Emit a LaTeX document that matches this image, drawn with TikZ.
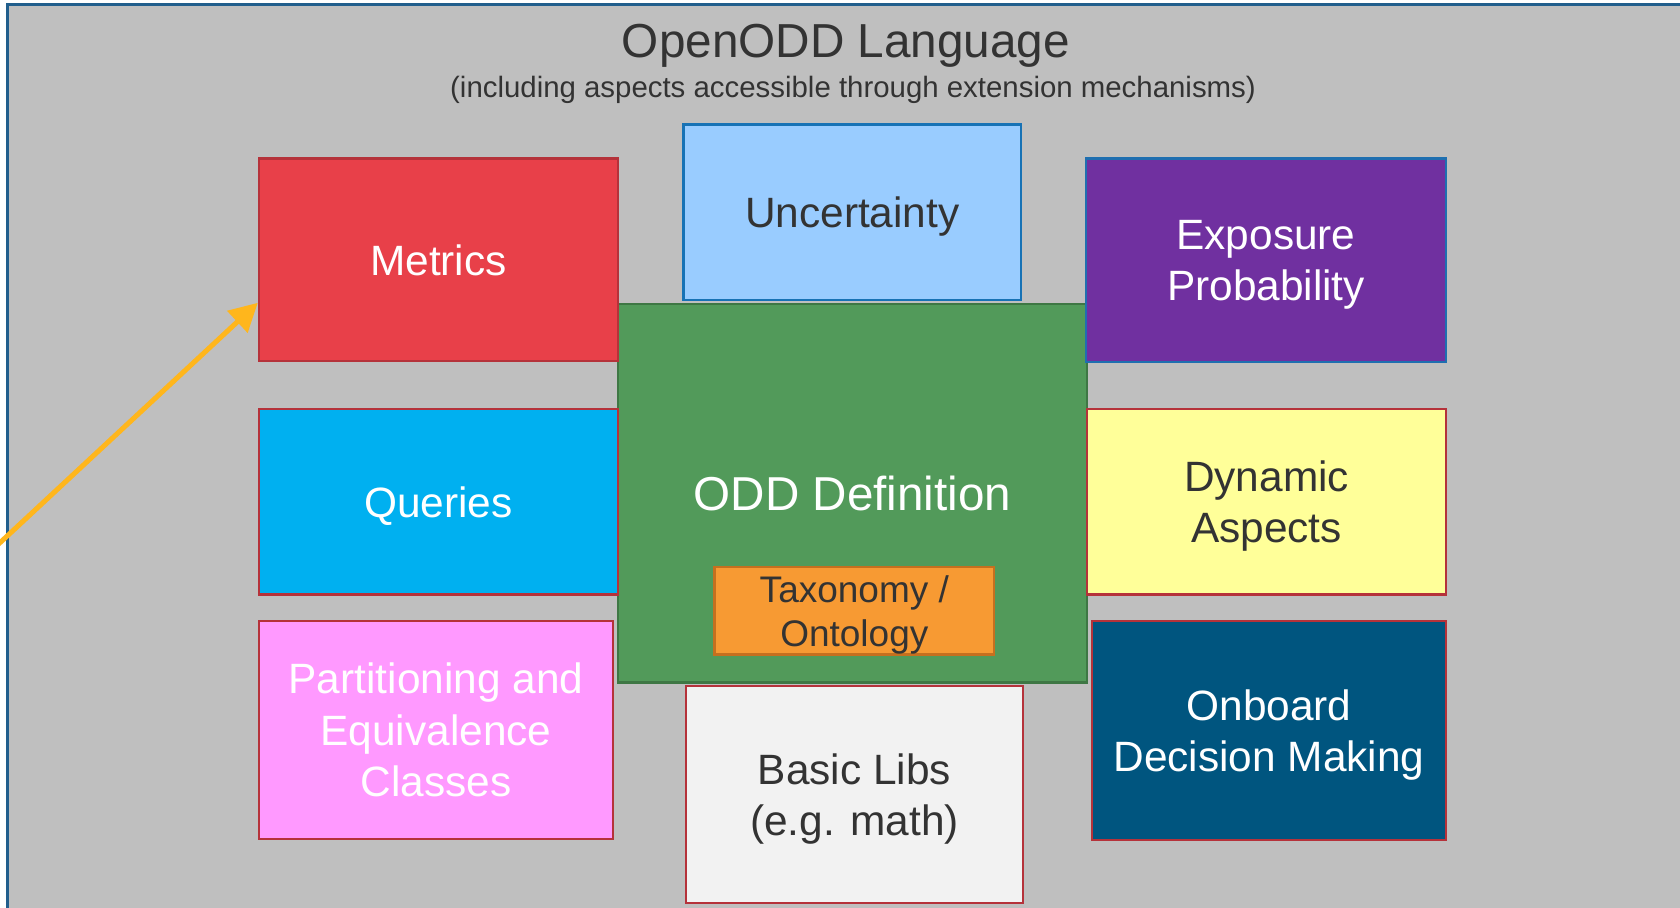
\documentclass[tikz,border=0pt]{standalone}
\usepackage{fontspec}
\setmainfont{Liberation Sans}
\usetikzlibrary{arrows.meta,calc}
\definecolor{bgray}{HTML}{BFBFBF}
\definecolor{frameblue}{HTML}{215E8C}
\definecolor{redborder}{HTML}{B5323A}
\definecolor{metricsfill}{HTML}{E84049}
\definecolor{uncfill}{HTML}{99CCFF}
\definecolor{uncborder}{HTML}{1772B5}
\definecolor{expfill}{HTML}{7030A0}
\definecolor{expborder}{HTML}{1F6FB0}
\definecolor{oddfill}{HTML}{529A5A}
\definecolor{oddborder}{HTML}{3E7744}
\definecolor{queryfill}{HTML}{00B0F0}
\definecolor{dynfill}{HTML}{FFFF99}
\definecolor{taxfill}{HTML}{F79A33}
\definecolor{taxborder}{HTML}{C5701F}
\definecolor{partfill}{HTML}{FF99FF}
\definecolor{basicfill}{HTML}{F2F2F2}
\definecolor{onbfill}{HTML}{00557F}
\definecolor{darktext}{HTML}{333333}
\definecolor{arroworange}{HTML}{FFB61C}
\tikzset{
  box/.style={draw=redborder, line width=1.2pt, inner sep=0pt, align=center,
    text depth=0pt, font=\fontsize{21.2}{25.7}\selectfont, text=white},
  darkbox/.style={box, text=darktext},
  orangearrow/.style={draw=arroworange, line width=2.5pt,
    -{Triangle[length=14pt,width=14.5pt]}}
}
\begin{document}
\begin{tikzpicture}[x=0.5pt,y=-0.5pt]
\useasboundingbox (0,0) rectangle (1680,907);
\clip (0,0) rectangle (1680,907);
\fill[white] (0,0) rectangle (1680,907);
\draw[fill=bgray, draw=frameblue, line width=1.2pt] (7.5,4.3) rectangle (1720,950);
% title
\node[text=darktext, font=\fontsize{23.85}{28}\selectfont, anchor=base] (title) at (846,57) {OpenODD Language};
\node[text=darktext, font=\fontsize{14.7}{17}\selectfont, anchor=base] (subtitle) at (853,97) {(including aspects accessible through extension mechanisms)};
% central box
\node[box, fill=oddfill, draw=oddborder, minimum width=234.5pt, minimum height=189.25pt,
  font=\fontsize{23.8}{28}\selectfont] (odd) at (852.5,493.3) {ODD Definition};
\node[darkbox, fill=taxfill, draw=taxborder, minimum width=139.7pt, minimum height=43.8pt,
  font=\fontsize{18.5}{22}\selectfont] (tax) at (854.3,610.8) {Taxonomy /\\Ontology};
% surrounding boxes
\node[box, fill=metricsfill, minimum width=179.5pt, minimum height=101.2pt] (metrics) at (438.5,259.8) {Metrics};
\node[darkbox, fill=uncfill, draw=uncborder, minimum width=168.7pt, minimum height=87.85pt] (unc) at (852.3,212.2) {Uncertainty};
\node[box, fill=expfill, draw=expborder, minimum width=180pt, minimum height=101.7pt] (exp) at (1266,260.3) {Exposure\\Probability};
\node[box, fill=queryfill, minimum width=179.5pt, minimum height=92.8pt] (queries) at (438.5,501.8) {Queries};
\node[darkbox, fill=dynfill, minimum width=179.5pt, minimum height=92.8pt] (dyn) at (1266.5,501.8) {Dynamic\\Aspects};
\node[box, fill=partfill, minimum width=177pt, minimum height=109pt] (part) at (436,730) {Partitioning and\\Equivalence\\Classes};
\node[darkbox, fill=basicfill, minimum width=168.5pt, minimum height=108.5pt] (basic) at (854.5,794.5) {Basic Libs\\(e.g. math)};
\node[box, fill=onbfill, minimum width=177pt, minimum height=109.5pt] (onb) at (1269,730.5) {Onboard\\Decision Making};
% arrow
\coordinate (arrowstart) at (-10,552);
\draw[orangearrow] (arrowstart) -- ($(metrics.south west)!0.29!(metrics.north west)$);
\end{tikzpicture}
\end{document}
